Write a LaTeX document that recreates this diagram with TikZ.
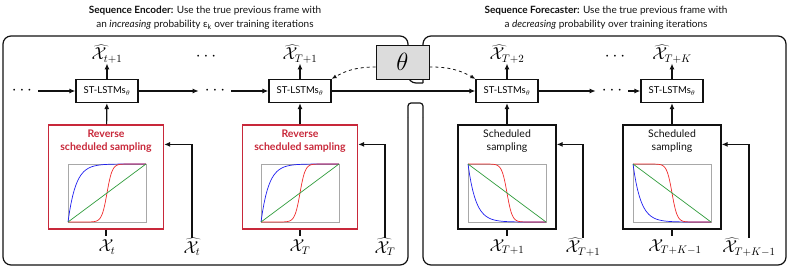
\documentclass[tikz,border=0pt]{standalone}
\usepackage{fontspec}
\setsansfont{Lato}
\usetikzlibrary{arrows.meta,positioning}
\definecolor{ink}{HTML}{111111}
\definecolor{rss}{HTML}{C8283A}
\definecolor{chartline}{HTML}{A8A8A8}
\definecolor{paramfill}{HTML}{DCDCDC}
\definecolor{fastc}{HTML}{1F1FF0}
\definecolor{sigc}{HTML}{F02A2A}
\definecolor{linc}{HTML}{2E9B3A}
\tikzset{
  % ---- panels and shared weights --------------------------------
  panel/.style      = {draw=ink, line width=1.2pt, rounded corners=8pt},
  slotcap/.style    = {draw=ink, line width=1.2pt, rounded corners=3pt},
  param/.style      = {draw=ink, line width=.8pt, fill=paramfill,
                       minimum width=53pt, minimum height=34pt,
                       inner sep=0pt, font=\fontsize{30}{30}\selectfont},
  share/.style      = {draw=ink, line width=.8pt, dashed,
                       -{Latex[length=5pt,width=4pt]}},
  title/.style      = {font=\sffamily\fontsize{10}{14}\selectfont,
                       align=center, text=ink},
  % ---- recurrent cells -------------------------------------------
  cell/.style       = {draw=ink, line width=1.2pt, fill=white,
                       minimum width=62pt, minimum height=23pt,
                       inner sep=0pt, font=\sffamily\fontsize{9.5}{10}\selectfont},
  flow/.style       = {draw=ink, line width=1.2pt,
                       -{Latex[length=6pt,width=5pt]}},
  tick/.style       = {draw=ink, line width=1.2pt},
  seqlab/.style     = {font=\fontsize{16}{16}\selectfont, inner sep=0pt},
  dots/.style       = {font=\fontsize{18}{18}\selectfont, inner sep=6pt},
  % ---- samplers --------------------------------------------------
  sampler/.style    = {draw=ink, line width=1.2pt, minimum width=98pt,
                       minimum height=104pt, inner sep=0pt},
  rsampler/.style   = {sampler, draw=rss, minimum width=115pt},
  stag/.style       = {font=\sffamily\fontsize{10.5}{13.5}\selectfont,
                       align=center, text=ink, inner sep=0pt},
  rstag/.style      = {stag, font=\sffamily\bfseries\fontsize{10.5}{13.5}\selectfont,
                       text=rss},
  chartframe/.style = {draw=chartline, line width=.6pt},
  curve/.style      = {line width=.7pt},
  incchart/.pic     = {
    \draw[chartframe] (-39,-29) rectangle (39,29);
    \draw[curve, fastc] plot[domain=0:1, samples=50]
      ({-39+78*\x}, {-29+58*(1-exp(-10*\x))});
    \draw[curve, sigc] (-39,-29) -- plot[domain=0.2:0.8, samples=50]
      ({-39+78*\x}, {-29+58/(1+exp(-30*(\x-0.5)))}) -- (39,29);
    \draw[curve, linc] (-39,-29) -- (39,29);
  },
  decchart/.pic     = {
    \draw[chartframe] (-39,-29) rectangle (39,29);
    \draw[curve, fastc] plot[domain=0:1, samples=50]
      ({-39+78*\x}, {-29+58*exp(-10*\x)});
    \draw[curve, sigc] (-39,29) -- plot[domain=0.2:0.8, samples=50]
      ({-39+78*\x}, {-29+58/(1+exp(30*(\x-0.5)))}) -- (39,-29);
    \draw[curve, linc] (-39,29) -- (39,-29);
  },
}

\begin{document}
\begin{tikzpicture}[x=1pt,y=1pt]
\useasboundingbox (0,0) rectangle (789,268);
  % panels
  \draw[panel] (423,185) -- (408,185) -- (408,232) -- (3,232) -- (3,3) -- (408,3) -- (408,150);
  \draw[panel] (423,185) -- (423,232) -- (786,232) -- (786,3) -- (423,3) -- (423,150);
  \draw[slotcap] (408,150) -- (408,165) -- (423,165) -- (423,150);
  \node[title] (tenc) at (205,250) {\textbf{Sequence Encoder:} Use the true previous frame with\\an \textit{increasing} probability ε\textsubscript{k} over training iterations};
  \node[title] (tfc) at (606,250) {\textbf{Sequence Forecaster:} Use the true previous frame with\\a \textit{decreasing} probability over training iterations};
  \node[param] (theta) at (402.5,206) {$\theta$};
  % recurrent cells
  \node[cell] (s1) at (107,177) {ST-LSTMs$_\theta$};
  \node[cell] (s2) at (300,177) {ST-LSTMs$_\theta$};
  \node[cell] (s3) at (507,177) {ST-LSTMs$_\theta$};
  \node[cell] (s4) at (672,177) {ST-LSTMs$_\theta$};
  \node[dots] (d0) at (22,177) {$\cdots$};
  \node[dots] (d1) at (215,177) {$\cdots$};
  \node[dots] (d2) at (612,177) {$\cdots$};
  \node[dots] (u1) at (206,211) {$\cdots$};
  \node[dots] (u2) at (615,211) {$\cdots$};
  \draw[flow] (d0) -- (s1);
  \draw[flow] (s1) -- (d1);
  \draw[flow] (d1) -- (s2);
  \draw[flow] (s2) -- (s3);
  \draw[flow] (s3) -- (d2);
  \draw[flow] (d2) -- (s4);
  \draw[share] ([yshift=-5pt]theta.west) to[bend right=15] (s2.north east);
  \draw[share] ([yshift=-5pt]theta.east) to[bend left=15] (s3.north west);
  % predictions
  \node[seqlab] (o1) at (107,214) {$\widehat{\mathcal{X}}_{t+1}$};
  \node[seqlab] (o2) at (300,214) {$\widehat{\mathcal{X}}_{T+1}$};
  \node[seqlab] (o3) at (507,214) {$\widehat{\mathcal{X}}_{T+2}$};
  \node[seqlab] (o4) at (672,214) {$\widehat{\mathcal{X}}_{T+K}$};
  \draw[flow] (s1) -- (o1);
  \draw[flow] (s2) -- (o2);
  \draw[flow] (s3) -- (o3);
  \draw[flow] (s4) -- (o4);
  % samplers
  \node[rsampler] (r1) at (106,91) {};
  \node[rsampler] (r2) at (300,91) {};
  \node[sampler] (r3) at (507,91) {};
  \node[sampler] (r4) at (672,91) {};
  \node[rstag, below=5pt of r1.north] (r1t) {Reverse\\scheduled sampling};
  \node[rstag, below=5pt of r2.north] (r2t) {Reverse\\scheduled sampling};
  \node[stag, below=5pt of r3.north] (r3t) {Scheduled\\sampling};
  \node[stag, below=5pt of r4.north] (r4t) {Scheduled\\sampling};
  \pic at (107,75) {incchart};
  \pic at (300,75) {incchart};
  \pic at (507,75) {decchart};
  \pic at (672,75) {decchart};
  \draw[flow] (r1) -- (s1);
  \draw[flow] (r2) -- (s2);
  \draw[flow] (r3) -- (s3);
  \draw[flow] (r4) -- (s4);
  % inputs
  \node[seqlab] (x1) at (107,21) {$\mathcal{X}_t$};
  \node[seqlab] (x2) at (300,21) {$\mathcal{X}_T$};
  \node[seqlab] (x3) at (507,21) {$\mathcal{X}_{T+1}$};
  \node[seqlab] (x4) at (675,21) {$\mathcal{X}_{T+K-1}$};
  \node[seqlab] (h1) at (192,21) {$\widehat{\mathcal{X}}_t$};
  \node[seqlab] (h2) at (385,21) {$\widehat{\mathcal{X}}_T$};
  \node[seqlab] (h3) at (583,21) {$\widehat{\mathcal{X}}_{T+1}$};
  \node[seqlab] (h4) at (749,21) {$\widehat{\mathcal{X}}_{T+K-1}$};
  \draw[tick] (r1.south) -- ++(0,-6);
  \draw[tick] (r2.south) -- ++(0,-6);
  \draw[tick] (r3.south) -- ++(0,-6);
  \draw[tick] (r4.south) -- ++(0,-6);
  \draw[flow] (h1.north) |- ([yshift=-20pt]r1.north east);
  \draw[flow] (h2.north) |- ([yshift=-20pt]r2.north east);
  \draw[flow] (h3.north) |- ([yshift=-20pt]r3.north east);
  \draw[flow] (h4.north) |- ([yshift=-20pt]r4.north east);
\end{tikzpicture}
\end{document}
